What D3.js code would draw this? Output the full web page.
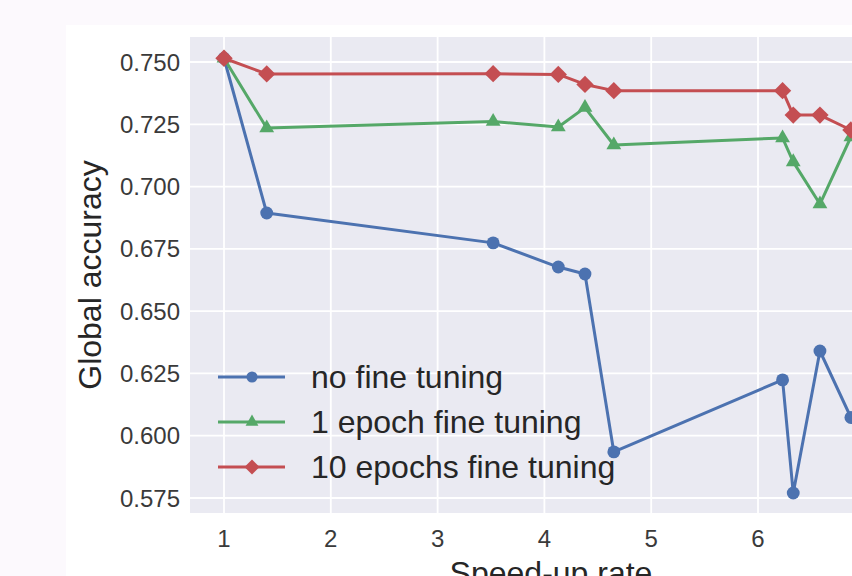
<!DOCTYPE html>
<html>
<head>
<meta charset="utf-8">
<script src="https://cdn.jsdelivr.net/npm/d3@7"></script>
<style>
  html, body { margin: 0; padding: 0; background: #fcf9fd; }
  svg { display: block; font-family: "Liberation Sans", Arial, sans-serif; }
</style>
</head>
<body>
<script>
// データ
var speedUp = [1.0, 1.40, 3.52, 4.13, 4.38, 4.65, 6.23, 6.33, 6.58, 6.87];
var noFineTuning = [0.7515, 0.6894, 0.6774, 0.6677, 0.6649, 0.5935, 0.6224, 0.5770, 0.6340, 0.6073];
var oneEpoch = [0.7515, 0.7235, 0.7261, 0.7239, 0.7317, 0.7167, 0.7195, 0.7099, 0.6930, 0.7199];
var tenEpochs = [0.7515, 0.7452, 0.7453, 0.7450, 0.7410, 0.7385, 0.7385, 0.7287, 0.7287, 0.7227];
var seriesNames = ["no fine tuning", "1 epoch fine tuning", "10 epochs fine tuning"];
var xTicks = [1, 2, 3, 4, 5, 6];
var yTicks = [0.575, 0.600, 0.625, 0.650, 0.675, 0.700, 0.725, 0.750];

var width = 852, height = 576;
var colors = ["#4c72b0", "#55a868", "#c44e52"];
var markers = ["circle", "triangle", "diamond"];

var svg = d3.select("body").append("svg").attr("width", width).attr("height", height);

// 背景パネル
svg.append("rect").attr("x", 0).attr("y", 0).attr("width", width).attr("height", height).attr("fill", "#fcf9fd");
svg.append("rect").attr("x", 66).attr("y", 25).attr("width", width).attr("height", height).attr("fill", "#ffffff");

// スケール
var x = d3.scaleLinear().domain([1, 6]).range([224, 758]);
var y = d3.scaleLinear().domain([0.575, 0.750]).range([498, 62]);
var plotLeft = 190, plotTop = 37, plotBottom = 513, plotRight = 900;

svg.append("rect")
    .attr("x", plotLeft).attr("y", plotTop)
    .attr("width", plotRight - plotLeft).attr("height", plotBottom - plotTop)
    .attr("fill", "#eaeaf2");

// グリッド
svg.selectAll("line.ygrid").data(yTicks).enter().append("line")
    .attr("class", "ygrid")
    .attr("x1", plotLeft).attr("x2", plotRight)
    .attr("y1", function (d) { return y(d); }).attr("y2", function (d) { return y(d); })
    .attr("stroke", "#ffffff").attr("stroke-width", 1.8);
svg.selectAll("line.xgrid").data(xTicks).enter().append("line")
    .attr("class", "xgrid")
    .attr("x1", function (d) { return x(d); }).attr("x2", function (d) { return x(d); })
    .attr("y1", plotTop).attr("y2", plotBottom)
    .attr("stroke", "#ffffff").attr("stroke-width", 1.8);

// 目盛りラベル
svg.selectAll("text.ytick").data(yTicks).enter().append("text")
    .attr("class", "ytick")
    .attr("x", 180).attr("y", function (d) { return y(d) + 8.5; })
    .attr("text-anchor", "end").attr("font-size", 24).attr("fill", "#3a3a3a")
    .text(function (d) { return d3.format(".3f")(d); });
svg.selectAll("text.xtick").data(xTicks).enter().append("text")
    .attr("class", "xtick")
    .attr("x", function (d) { return x(d); }).attr("y", 547)
    .attr("text-anchor", "middle").attr("font-size", 24).attr("fill", "#3a3a3a")
    .text(function (d) { return d; });

// 軸タイトル
svg.append("text")
    .attr("transform", "translate(101," + ((plotTop + plotBottom) / 2) + ") rotate(-90)")
    .attr("text-anchor", "middle").attr("font-size", 32).attr("fill", "#262626")
    .text("Global accuracy");
svg.append("text")
    .attr("x", 551).attr("y", 584)
    .attr("text-anchor", "middle").attr("font-size", 32).attr("fill", "#262626")
    .text("Speed-up rate");

function markerPath(type, scale) {
    if (type === "circle") return d3.symbol().type(d3.symbolCircle).size(130 * scale)();
    if (type === "triangle") return d3.symbol().type(d3.symbolTriangle).size(95 * scale)();
    return d3.symbol().type(d3.symbolSquare).size(150 * scale)();
}

// 折れ線
var allSeries = [noFineTuning, oneEpoch, tenEpochs];
var line = d3.line()
    .x(function (d) { return x(d[0]); })
    .y(function (d) { return y(d[1]); });

allSeries.forEach(function (vals, i) {
    var pts = speedUp.map(function (s, j) { return [s, vals[j]]; });
    svg.append("path")
        .datum(pts)
        .attr("d", line)
        .attr("fill", "none")
        .attr("stroke", colors[i])
        .attr("stroke-width", 3)
        .attr("stroke-linejoin", "round");
    svg.selectAll("path.m" + i).data(pts).enter().append("path")
        .attr("class", "m" + i)
        .attr("d", markerPath(markers[i], 1))
        .attr("transform", function (d) {
            return "translate(" + x(d[0]) + "," + y(d[1]) + ")" + (markers[i] === "diamond" ? " rotate(45)" : "");
        })
        .attr("fill", colors[i]);
});

// 凡例
var legendRows = [377, 422, 467];
seriesNames.forEach(function (name, i) {
    var g = svg.append("g");
    g.append("line")
        .attr("x1", 218).attr("x2", 285)
        .attr("y1", legendRows[i]).attr("y2", legendRows[i])
        .attr("stroke", colors[i]).attr("stroke-width", 3);
    g.append("path")
        .attr("d", markerPath(markers[i], 0.75))
        .attr("transform", "translate(252," + legendRows[i] + ")" + (markers[i] === "diamond" ? " rotate(45)" : ""))
        .attr("fill", colors[i]);
    g.append("text")
        .attr("x", 311).attr("y", legendRows[i] + 11)
        .attr("font-size", 32).attr("fill", "#262626")
        .text(name);
});
</script>
</body>
</html>
